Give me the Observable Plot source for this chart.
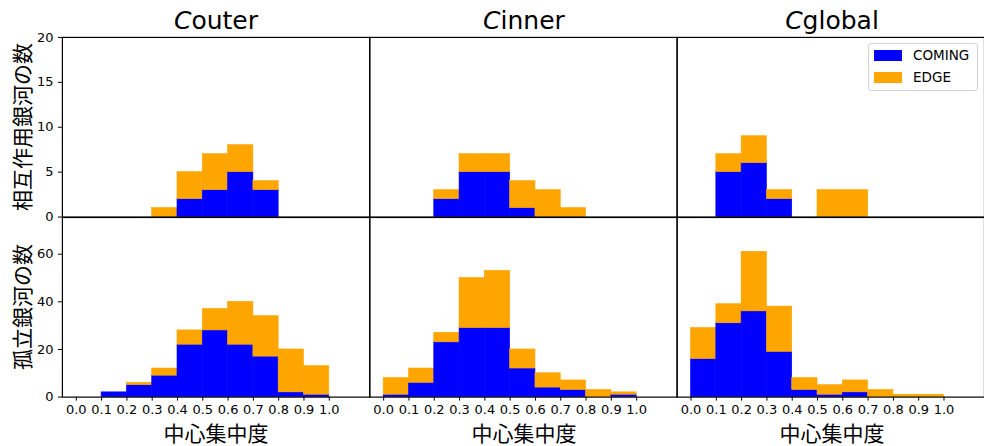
<!DOCTYPE html>
<html><head><meta charset="utf-8">
<script src="https://cdn.jsdelivr.net/npm/d3@7"></script>
<script src="https://cdn.jsdelivr.net/npm/@observablehq/plot@0.6"></script>
<style>
html,body{margin:0;padding:0;background:#fff;overflow:hidden;}
#wrap{position:relative;width:984px;height:446px;overflow:hidden;font-family:"DejaVu Sans",sans-serif;color:#000;}
.abs{position:absolute;}
.title{font-family:"DejaVu Sans",sans-serif;font-size:25px;top:4px;width:308px;text-align:center;line-height:34px;}
.ylab{font-family:"Noto Sans CJK JP",sans-serif;font-size:21px;transform:translate(-50%,-50%) rotate(-90deg);white-space:nowrap;line-height:24px;}
.xlab{font-family:"Noto Sans CJK JP",sans-serif;font-size:21px;width:308px;text-align:center;top:419px;line-height:26px;}
.legend{left:868px;top:43px;width:110px;height:48px;border:1px solid #d4d4d4;border-radius:3px;background:#fff;box-sizing:border-box;}
.sw{position:absolute;width:28px;height:11px;left:5px;}
.lt{position:absolute;left:44px;font-size:13.5px;line-height:16px;font-family:"DejaVu Sans",sans-serif;}
svg{position:absolute;left:0;}
</style></head>
<body><div id="wrap"></div>
<script>
// ---- data ----
const panels = ["Couter", "Cinner", "Cglobal"];
const series = ["COMING", "EDGE"];
const binEdges = [0.0, 0.1, 0.2, 0.3, 0.4, 0.5, 0.6, 0.7, 0.8, 0.9, 1.0];
const xTicks = [0.0, 0.1, 0.2, 0.3, 0.4, 0.5, 0.6, 0.7, 0.8, 0.9, 1.0];
const xTickLabels = ["0.0","0.1","0.2","0.3","0.4","0.5","0.6","0.7","0.8","0.9","1.0"];
const yTicksTop = [0, 5, 10, 15, 20];
const yTicksBottom = [0, 20, 40, 60];
const yLabelTop = "相互作用銀河の数";
const yLabelBottom = "孤立銀河の数";
const xLabel = "中心集中度";

// interacting galaxies (top row)
const intCouterComing  = [0, 0, 0, 0, 2, 3, 5, 3, 0, 0];
const intCouterEdge    = [0, 0, 0, 1, 3, 4, 3, 1, 0, 0];
const intCinnerComing  = [0, 0, 2, 5, 5, 1, 0, 0, 0, 0];
const intCinnerEdge    = [0, 0, 1, 2, 2, 3, 3, 1, 0, 0];
const intCglobalComing = [0, 5, 6, 2, 0, 0, 0, 0, 0, 0];
const intCglobalEdge   = [0, 2, 3, 1, 0, 3, 3, 0, 0, 0];

// isolated galaxies (bottom row)
const isoCouterComing  = [0, 2, 5, 9, 22, 28, 22, 17, 2, 1];
const isoCouterEdge    = [0, 0, 1, 3, 6, 9, 18, 17, 18, 12];
const isoCinnerComing  = [1, 6, 23, 29, 29, 12, 4, 3, 0, 1];
const isoCinnerEdge    = [7, 6, 4, 21, 24, 8, 6, 4, 3, 1];
const isoCglobalComing = [16, 31, 36, 19, 3, 1, 2, 0, 0, 0];
const isoCglobalEdge   = [13, 8, 25, 19, 5, 4, 5, 3, 1, 1];

// ---- styles ----
const colors = ["#0000ff", "#ffa500"];

function build(comingByPanel, edgeByPanel) {
  const rows = [];
  panels.forEach((p, pi) => {
    const c = comingByPanel[pi], e = edgeByPanel[pi];
    for (let i = 0; i < c.length; i++) {
      const x1 = binEdges[i], x2 = binEdges[i + 1];
      if (c[i] > 0) rows.push({panel: p, series: series[0], x1, x2, y1: 0, y2: c[i]});
      if (e[i] > 0) rows.push({panel: p, series: series[1], x1, x2, y1: c[i], y2: c[i] + e[i]});
    }
  });
  return rows;
}

const topData = build([intCouterComing, intCinnerComing, intCglobalComing],
                      [intCouterEdge, intCinnerEdge, intCglobalEdge]);
const botData = build([isoCouterComing, isoCinnerComing, isoCglobalComing],
                      [isoCouterEdge, isoCinnerEdge, isoCglobalEdge]);

function row(data, yDomain, yTicks, showX, height, mt, mb) {
  return Plot.plot({
    width: 986, height, marginLeft: 62, marginRight: 0, marginTop: mt, marginBottom: mb,
    style: {fontFamily: "DejaVu Sans", fontSize: "13px", background: "transparent", color: "black", overflow: "visible"},
    fx: {domain: panels, padding: 0, axis: null},
    x: {domain: [-0.055, 1.16], axis: showX ? "bottom" : null, ticks: xTicks,
        tickFormat: d => xTickLabels[Math.round(d * 10)], tickSize: 4, tickPadding: 4, label: null},
    y: {domain: yDomain, ticks: yTicks, tickSize: 4, tickPadding: 5, label: null},
    color: {domain: series, range: colors},
    marks: [
      Plot.rect(data, {fx: "panel", x1: "x1", x2: "x2", y1: "y1", y2: "y2", fill: "series",
                       stroke: "series", strokeWidth: 0.6}),
      Plot.frame({stroke: "black", strokeWidth: 1.2})
    ]
  });
}

const wrap = document.getElementById("wrap");
const top1 = row(topData, [0, 20], yTicksTop, false, 220, 37, 3);
top1.style.top = "0px";
wrap.appendChild(top1);
const bot = row(botData, [0, 75.4], yTicksBottom, true, 232, 3, 49);
bot.style.top = "214px";
wrap.appendChild(bot);

// titles and axis labels
const panelLeft = [62, 370, 678];
panels.forEach((p, i) => {
  const t = document.createElement("div");
  t.className = "abs title";
  t.style.left = panelLeft[i] + "px";
  const it = document.createElement("span");
  it.style.fontStyle = "italic";
  it.textContent = p[0];
  t.appendChild(it);
  t.appendChild(document.createTextNode(p.slice(1)));
  wrap.appendChild(t);
  const xl = document.createElement("div");
  xl.className = "abs xlab";
  xl.style.left = panelLeft[i] + "px";
  xl.textContent = xLabel;
  wrap.appendChild(xl);
});
[[yLabelTop, 127], [yLabelBottom, 307]].forEach(([txt, cy]) => {
  const d = document.createElement("div");
  d.className = "abs ylab";
  d.style.left = "21px";
  d.style.top = cy + "px";
  d.textContent = txt;
  wrap.appendChild(d);
});

// legend
const lg = document.createElement("div");
lg.className = "abs legend";
series.forEach((s, i) => {
  const sw = document.createElement("div");
  sw.className = "sw";
  sw.style.top = (6 + i * 22) + "px";
  sw.style.background = colors[i];
  lg.appendChild(sw);
  const lt = document.createElement("div");
  lt.className = "lt";
  lt.style.top = (3 + i * 22) + "px";
  lt.textContent = s;
  lg.appendChild(lt);
});
wrap.appendChild(lg);
</script></body></html>
